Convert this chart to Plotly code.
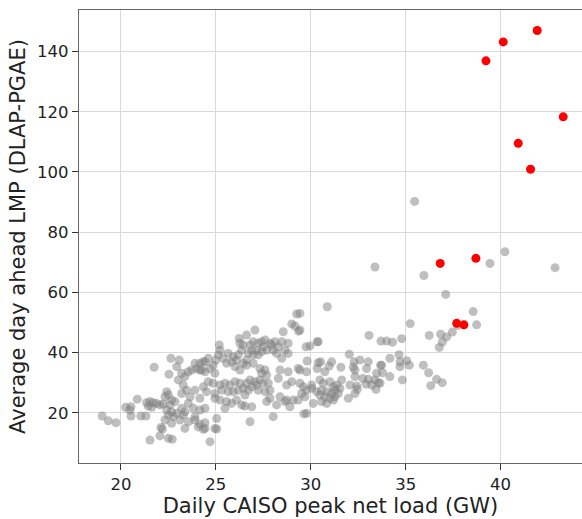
import plotly.graph_objects as go

# Grey points: (peak net load GW, avg DA LMP)
grey_x = [
    35.47, 40.23, 39.44, 42.87, 35.96, 37.11, 38.56, 38.74, 37.74, 35.24, 36.24, 36.84, 37.16, 37.46, 36.93,
    36.77, 34.79, 34.31, 34.00, 33.70, 34.65, 34.17, 34.70, 35.05, 35.19, 34.70, 35.93, 36.21, 36.63, 36.93,
    36.32, 34.83, 34.17, 33.78, 33.73, 33.65, 30.87, 33.07, 33.38, 29.43, 29.43, 30.39, 29.75, 29.96, 32.03,
    29.43, 29.81, 30.34, 30.52, 30.74, 30.97, 31.10, 31.59, 32.28, 32.59, 33.03, 32.24, 32.33, 32.33, 32.94,
    33.68, 33.47, 32.74, 33.03, 33.38, 32.91, 33.21, 33.56, 33.44, 32.07, 32.42, 32.33, 31.98, 32.45, 29.61,
    29.78, 30.05, 29.52, 29.69, 30.48, 30.66, 31.01, 31.19, 31.37, 31.63, 31.54, 30.57, 30.84, 31.10, 31.27,
    30.74, 31.01, 31.27, 30.57, 30.84, 31.19, 30.13, 29.78, 29.64, 30.31, 30.48, 31.45, 29.26, 29.00, 29.17,
    29.36, 28.55, 28.81, 28.47, 28.11, 27.94, 28.29, 28.64, 28.47, 28.20, 28.81, 28.02, 30.34, 30.39, 27.06,
    26.62, 26.23, 26.27, 26.44, 26.80, 26.97, 27.23, 27.41, 27.50, 27.15, 26.89, 26.71, 26.97, 27.23, 27.41,
    27.68, 27.85, 27.59, 25.18, 25.22, 25.65, 25.92, 26.09, 25.83, 25.57, 25.39, 25.13, 25.00, 24.86, 26.01,
    26.27, 26.44, 26.62, 26.18, 26.36, 26.62, 26.97, 27.32, 27.59, 27.41, 27.68, 27.32, 27.06, 26.80, 26.62,
    26.89, 27.15, 27.50, 27.76, 27.85, 27.59, 27.23, 26.71, 26.44, 26.27, 26.01, 25.74, 25.48, 25.22, 24.86,
    24.60, 24.34, 24.51, 24.95, 25.31, 25.65, 25.92, 26.18, 26.53, 26.09, 25.83, 25.57, 25.22, 24.95, 26.36,
    26.89, 26.53, 25.48, 25.04, 24.95, 24.43, 24.69, 26.80, 28.02, 28.20, 28.38, 28.73, 29.08, 29.34, 30.05,
    28.90, 28.64, 27.85, 27.68, 28.29, 28.73, 29.00, 29.43, 28.38, 28.81, 29.34, 29.78, 24.43, 24.69, 24.95,
    24.34, 24.60, 24.25, 19.01, 19.33, 19.74, 20.25, 20.53, 20.47, 20.86, 20.53, 21.05, 21.32, 21.35, 21.53,
    21.70, 21.88, 22.05, 22.23, 21.44, 21.62, 21.75, 22.63, 23.07, 22.53, 22.41, 22.50, 22.67, 22.32, 22.85,
    22.58, 22.41, 22.67, 22.94, 22.76, 22.50, 23.20, 23.28, 23.11, 22.32, 22.11, 22.18, 22.67, 21.53, 22.05,
    22.50, 22.70, 23.55, 23.90, 24.16, 24.34, 24.43, 23.37, 22.94, 23.20, 23.37, 23.55, 23.72, 23.99, 24.16,
    23.90, 24.16, 24.43, 23.02, 23.28, 23.46, 23.20, 23.64, 23.90, 24.16, 23.55, 23.81, 24.16, 24.43, 23.37,
    23.90, 24.07, 25.04,
]
grey_y = [
    90.2, 73.5, 69.6, 68.2, 65.6, 59.3, 53.6, 49.2, 49.0, 49.6, 45.7, 46.1, 45.2, 46.8, 43.5,
    41.7, 44.6, 43.4, 43.8, 43.8, 39.3, 38.1, 36.9, 37.3, 35.8, 35.3, 35.8, 33.3, 31.1, 30.0,
    29.0, 30.9, 32.0, 33.3, 35.8, 29.8, 55.2, 45.7, 68.4, 53.0, 47.5, 43.6, 41.9, 42.2, 39.4,
    34.2, 37.2, 34.7, 36.9, 33.6, 35.5, 36.9, 35.1, 36.9, 37.5, 36.9, 35.1, 34.2, 32.0, 34.7,
    35.8, 33.1, 31.4, 31.1, 30.9, 29.5, 29.2, 30.0, 27.8, 29.2, 28.9, 26.4, 24.8, 27.8, 28.6,
    27.5, 29.2, 26.4, 25.3, 30.9, 29.8, 30.3, 28.6, 29.2, 30.9, 28.1, 27.5, 27.0, 26.4, 27.5,
    25.3, 24.8, 25.3, 23.7, 23.1, 24.2, 23.1, 19.8, 19.6, 27.0, 25.9, 26.4, 52.8, 49.5, 48.8,
    47.1, 46.9, 43.1, 43.6, 43.6, 42.5, 41.9, 40.8, 38.1, 39.7, 39.7, 40.8, 43.6, 36.6, 47.5,
    45.8, 44.7, 43.1, 42.5, 42.5, 43.6, 43.1, 43.6, 41.9, 40.8, 40.8, 39.7, 39.2, 39.2, 40.3,
    40.8, 43.1, 44.2, 42.5, 40.8, 39.7, 38.6, 37.5, 36.9, 36.4, 38.1, 39.2, 37.5, 35.8, 35.3,
    34.2, 36.4, 37.5, 39.2, 40.8, 35.8, 36.4, 34.7, 34.2, 33.1, 32.5, 30.9, 30.3, 30.9, 29.8,
    28.6, 29.2, 29.8, 29.8, 27.5, 27.0, 27.5, 27.5, 28.1, 29.8, 30.3, 29.2, 29.8, 29.2, 29.8,
    30.3, 28.6, 27.0, 26.4, 27.5, 27.0, 27.0, 27.5, 25.9, 24.2, 23.1, 23.7, 24.2, 24.8, 22.6,
    22.0, 22.2, 21.5, 18.1, 14.8, 14.8, 10.4, 17.0, 18.7, 22.6, 25.3, 24.2, 24.2, 24.2, 28.1,
    22.0, 23.7, 24.8, 23.7, 31.4, 29.2, 30.3, 29.8, 34.2, 33.6, 34.7, 33.6, 33.6, 34.7, 33.1,
    36.9, 38.1, 34.2, 18.9, 17.3, 16.7, 21.8, 22.0, 20.9, 24.5, 18.9, 18.9, 18.9, 23.3, 23.7,
    23.3, 23.1, 22.6, 22.9, 22.2, 21.8, 35.1, 38.1, 37.5, 32.8, 27.0, 25.9, 24.2, 25.3, 23.7,
    22.6, 20.9, 20.3, 19.8, 18.7, 19.2, 21.5, 19.2, 17.6, 17.6, 15.1, 14.6, 16.5, 10.9, 12.3,
    11.5, 11.2, 17.0, 17.6, 16.2, 14.5, 16.7, 14.8, 35.3, 33.1, 32.0, 33.6, 34.2, 34.7, 34.2,
    36.4, 36.4, 36.9, 30.9, 29.2, 27.5, 26.4, 25.3, 27.5, 24.8, 23.1, 21.5, 20.9, 21.5, 20.3,
    18.7, 15.3, 14.6,
]

# Red (highlighted) points
red_x = [41.93, 40.14, 39.23, 43.30, 40.93, 41.58, 36.82, 38.70, 37.69, 38.07]
red_y = [147.0, 143.2, 136.9, 118.3, 109.5, 100.9, 69.6, 71.3, 49.7, 49.2]

x_ticks = [20, 25, 30, 35, 40]
y_ticks = [20, 40, 60, 80, 100, 120, 140]

fig = go.Figure()
fig.add_trace(go.Scatter(
    x=grey_x, y=grey_y, mode="markers",
    marker=dict(size=9, color="rgb(128,128,128)", opacity=0.5, line=dict(width=0)),
    showlegend=False, hoverinfo="skip",
))
fig.add_trace(go.Scatter(
    x=red_x, y=red_y, mode="markers",
    marker=dict(size=9, color="#ff0000", line=dict(width=0)),
    showlegend=False, hoverinfo="skip",
))

font_family = "DejaVu Sans"
fig.update_layout(
    width=582, height=519,
    margin=dict(l=79, r=0, t=10, b=56),
    paper_bgcolor="white", plot_bgcolor="white",
    font=dict(family=font_family, color="#222222", size=16.5),
    xaxis=dict(
        range=[17.79, 44.29], tickvals=x_ticks, ticktext=[str(v) for v in x_ticks],
        showgrid=True, gridcolor="#d9d9d9", gridwidth=1, zeroline=False,
        showline=True, linecolor="#666666", linewidth=1.3, mirror=True,
        ticks="outside", ticklen=6, tickcolor="#333333", tickwidth=1,
        tickfont=dict(size=16.5, family=font_family, color="#222222"),
        title=dict(text="Daily CAISO peak net load (GW)", font=dict(size=21, family=font_family, color="#222222"), standoff=5),
    ),
    yaxis=dict(
        range=[3.3, 153.8], tickvals=y_ticks, ticktext=[str(v) for v in y_ticks],
        showgrid=True, gridcolor="#d9d9d9", gridwidth=1, zeroline=False,
        showline=True, linecolor="#666666", linewidth=1.3, mirror=False,
        ticks="outside", ticklen=6, tickcolor="#333333", tickwidth=1,
        tickfont=dict(size=16.5, family=font_family, color="#222222"),
        title=dict(text="Average day ahead LMP (DLAP-PGAE)", font=dict(size=21, family=font_family, color="#222222"), standoff=5),
    ),
)

fig.write_html("out.html")
